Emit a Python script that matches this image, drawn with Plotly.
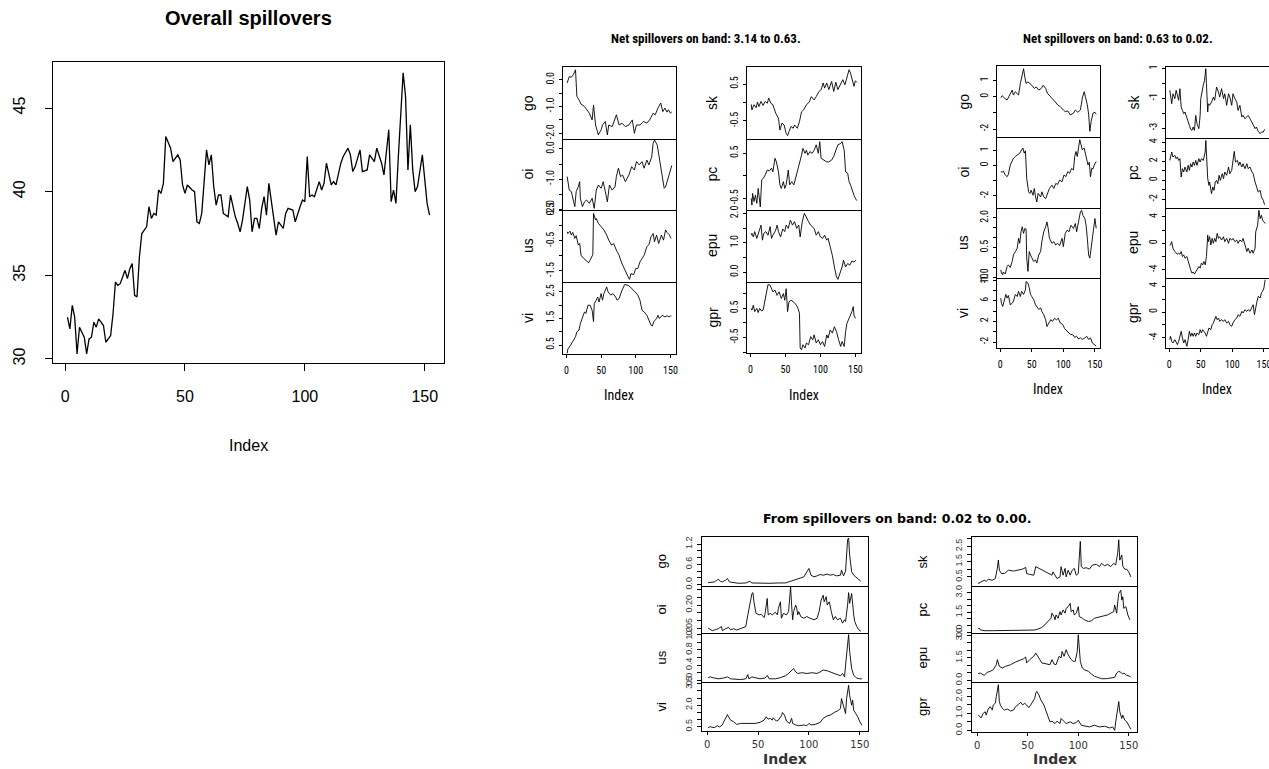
import plotly.graph_objects as go

W, H = 1269, 769

# ---------------- data (index, value) ----------------
overall = [(1,32.5),(2,31.8),(3,33.2),(4,32.5),(5,30.3),(6,31.9),(8,31.3),(9,30.3),(10,31.2),(11,31.3),(12,32.2),(13,31.9),(14,32.4),(16,32.0),(17,31.0),(19,31.4),(20,32.7),(21,34.6),(22,34.4),(23,34.5),(25,35.3),(26,34.8),(27,35.4),(28,35.7),(29,33.8),(30,33.7),(31,36.1),(32,37.5),(34,37.9),(35,39.1),(36,38.4),(37,38.7),(38,38.6),(39,40.1),(40,39.9),(41,40.5),(42,43.3),(43,43.0),(44,42.6),(45,41.8),(47,42.2),(48,41.9),(49,40.4),(50,39.9),(51,40.4),(53,40.1),(54,40.0),(55,38.2),(56,38.1),(57,38.7),(58,40.5),(59,42.5),(60,41.6),(61,42.2),(62,40.3),(63,39.2),(64,39.8),(65,39.8),(66,38.7),(68,38.5),(69,39.8),(70,39.1),(71,38.5),(72,38.1),(73,37.6),(74,38.3),(76,40.3),(77,39.5),(78,37.6),(79,38.4),(80,38.4),(81,37.8),(82,39.0),(83,39.7),(84,38.6),(85,40.5),(86,39.5),(87,38.5),(88,37.4),(89,38.2),(91,37.8),(92,38.7),(93,39.0),(95,38.9),(96,38.2),(98,39.1),(99,39.5),(100,39.4),(101,42.1),(102,39.7),(103,39.8),(104,39.7),(106,40.6),(107,40.1),(108,40.5),(109,41.7),(111,40.4),(112,40.6),(113,40.4),(115,41.7),(116,42.1),(118,42.6),(119,42.2),(120,41.2),(121,41.5),(123,42.5),(124,41.2),(126,41.3),(127,42.2),(129,41.8),(130,42.6),(132,41.7),(133,41.0),(135,43.7),(136,39.4),(137,40.1),(138,39.3),(139,42.1),(140,44.5),(141,47.1),(142,45.7),(143,41.3),(144,44.0),(145,41.3),(146,40.0),(147,40.3),(149,42.2),(150,40.5),(151,39.3),(152,38.6)]

# Net spillovers on band 3.14 to 0.63
n1_go = [(1,-0.12),(4,0.12),(7,0.09),(10,0.19),(13,0.37),(15,-0.62),(18,-0.75),(21,-0.91),(26,-1.0),(30,-1.12),(33,-1.25),(37,-1.5),(39,-0.94),(42,-1.69),(46,-2.06),(50,-1.87),(52,-1.69),(56,-1.56),(59,-2.06),(61,-1.69),(66,-1.75),(72,-1.31),(76,-1.69),(80,-1.62),(85,-1.75),(90,-1.69),(95,-1.5),(98,-2.0),(101,-1.69),(106,-1.69),(111,-1.56),(116,-1.62),(120,-1.5),(125,-1.25),(128,-1.31),(132,-1.06),(136,-0.87),(139,-1.19),(142,-1.06),(145,-1.21),(147,-1.12),(150,-1.25),(152,-1.2)]
n1_oi = [(1,-0.92),(2,-1.03),(4,-1.37),(7,-1.42),(9,-1.64),(12,-1.92),(14,-1.42),(17,-1.26),(19,-1.09),(20,-1.64),(23,-1.92),(26,-1.76),(29,-1.70),(33,-1.81),(37,-1.64),(40,-1.98),(43,-1.37),(46,-1.2),(50,-1.31),(53,-1.09),(56,-1.42),(59,-1.76),(62,-1.2),(66,-1.37),(70,-1.26),(72,-0.92),(75,-0.64),(78,-0.92),(81,-0.87),(85,-1.09),(90,-0.87),(94,-0.59),(98,-0.7),(101,-0.42),(105,-0.53),(109,-0.42),(112,-0.64),(116,-0.37),(119,-0.53),(123,-0.26),(125,0.19),(127,0.30),(131,0.13),(135,-0.42),(138,-0.98),(141,-1.31),(143,-1.26),(145,-1.09),(148,-0.87),(151,-0.59),(152,-0.55)]
n1_us = [(1,-0.2),(2,-0.26),(5,-0.18),(7,-0.31),(9,-0.22),(12,-0.42),(14,-0.33),(17,-0.64),(19,-0.59),(21,-0.98),(25,-1.09),(28,-1.14),(32,-1.23),(34,-1.14),(37,-0.98),(38,-0.96),(39,0.41),(42,0.19),(43,0.24),(46,0.08),(50,-0.03),(54,-0.14),(58,-0.31),(61,-0.48),(65,-0.64),(68,-0.59),(72,-0.81),(76,-0.98),(79,-1.2),(83,-1.42),(86,-1.59),(89,-1.70),(91,-1.78),(93,-1.59),(97,-1.62),(100,-1.42),(103,-1.42),(106,-1.2),(109,-1.09),(112,-0.98),(116,-0.70),(119,-0.62),(122,-0.37),(125,-0.26),(127,-0.53),(130,-0.31),(133,-0.59),(137,-0.31),(140,-0.48),(143,-0.14),(145,-0.22),(148,-0.29),(151,-0.42)]
n1_vi = [(1,0.19),(2,0.35),(6,0.5),(9,0.63),(13,0.81),(15,1.0),(18,1.06),(20,1.31),(23,1.5),(26,1.75),(28,1.69),(31,2.0),(34,2.0),(37,1.81),(39,1.38),(40,2.06),(43,2.19),(45,2.31),(47,2.12),(50,2.44),(52,2.19),(54,2.44),(58,2.69),(60,2.5),(64,2.38),(67,2.44),(71,2.31),(73,2.19),(76,2.25),(80,2.56),(84,2.78),(89,2.75),(92,2.69),(95,2.62),(99,2.5),(103,2.38),(106,2.19),(109,1.81),(112,1.75),(116,1.62),(119,1.44),(122,1.25),(124,1.22),(126,1.38),(130,1.5),(132,1.62),(134,1.5),(138,1.62),(142,1.56),(145,1.6),(149,1.56),(151,1.62)]
n1_sk = [(1,-0.05),(2,-0.2),(5,-0.06),(8,-0.14),(10,0.01),(12,-0.11),(15,0.03),(18,-0.08),(21,0.03),(24,-0.02),(26,0.12),(29,-0.02),(32,-0.06),(36,-0.29),(40,-0.43),(42,-0.75),(45,-0.56),(48,-0.61),(51,-0.84),(53,-0.9),(55,-0.79),(58,-0.65),(61,-0.7),(63,-0.61),(67,-0.7),(70,-0.52),(73,-0.25),(76,-0.2),(80,-0.06),(84,0.01),(87,0.16),(91,0.07),(94,0.16),(98,0.3),(101,0.35),(104,0.53),(106,0.39),(109,0.53),(112,0.35),(116,0.57),(119,0.3),(122,0.55),(125,0.35),(129,0.5),(132,0.62),(135,0.48),(137,0.62),(141,0.89),(143,0.8),(145,0.66),(148,0.44),(150,0.59),(152,0.55)]
n1_pc = [(1,-0.5),(2,-0.65),(3,-0.39),(5,-0.57),(7,-0.43),(9,-0.61),(11,-0.28),(12,-0.43),(14,-0.69),(16,-0.09),(18,-0.06),(21,0.02),(24,0.13),(27,0.11),(30,0.17),(32,0.09),(35,0.39),(37,0.31),(40,0.09),(42,-0.2),(44,-0.28),(47,-0.13),(49,-0.28),(51,-0.2),(54,0.13),(56,-0.2),(59,-0.13),(62,-0.2),(65,-0.02),(67,0.06),(70,0.24),(73,0.46),(75,0.61),(78,0.5),(80,0.57),(82,0.46),(85,0.54),(88,0.5),(91,0.57),(94,0.69),(97,0.5),(99,0.76),(101,0.39),(105,0.35),(109,0.31),(112,0.31),(116,0.35),(119,0.43),(122,0.57),(125,0.69),(129,0.72),(131,0.76),(134,0.57),(136,0.09),(139,0.06),(141,-0.13),(143,-0.2),(145,-0.31),(148,-0.43),(150,-0.5),(152,-0.55)]
n1_epu = [(1,1.26),(2,1.32),(4,1.2),(6,1.38),(9,1.15),(11,1.32),(13,1.43),(15,1.6),(17,1.09),(19,1.32),(22,1.38),(25,1.26),(28,1.55),(30,1.15),(32,1.26),(36,1.43),(38,1.6),(40,1.38),(43,1.2),(46,1.47),(49,1.38),(51,1.6),(54,1.49),(57,1.77),(60,1.6),(63,1.72),(66,1.49),(69,1.6),(71,1.2),(74,1.72),(77,2.0),(80,1.83),(83,1.72),(86,1.6),(89,1.55),(91,1.49),(94,1.26),(97,1.38),(100,1.2),(103,1.15),(106,1.26),(109,1.09),(111,1.15),(114,0.86),(117,0.58),(120,0.18),(123,-0.16),(125,-0.24),(128,-0.05),(131,0.18),(133,0.41),(136,0.18),(139,0.3),(142,0.24),(145,0.38),(148,0.35),(151,0.41)]
n1_gpr = [(1,0.5),(2,0.44),(4,0.61),(6,0.39),(9,0.5),(11,0.36),(13,0.5),(16,0.41),(18,0.44),(21,0.84),(23,1.18),(25,1.32),(28,1.3),(30,1.18),(32,1.07),(35,1.13),(38,0.95),(41,1.07),(44,0.84),(47,1.01),(49,0.78),(51,1.18),(53,0.39),(55,0.73),(58,0.78),(61,0.73),(65,0.64),(68,0.5),(70,0.33),(71,-0.86),(73,-0.92),(75,-0.75),(78,-0.86),(80,-0.69),(83,-0.75),(86,-0.47),(89,-0.58),(91,-0.41),(94,-0.69),(97,-0.58),(100,-0.75),(103,-0.64),(106,-0.81),(109,-0.41),(111,-0.52),(114,-0.24),(117,-0.35),(120,-0.13),(123,-0.3),(126,-0.58),(129,-0.81),(131,-0.64),(134,-0.81),(136,-0.3),(138,-0.01),(141,0.16),(143,0.27),(145,0.39),(147,0.56),(148,0.27),(150,0.16)]

# Net spillovers on band 0.63 to 0.02
n2_go = [(1,-0.06),(3,0.06),(5,0),(8,-0.14),(11,-0.2),(13,-0.06),(16,0.2),(19,0.41),(21,0.1),(24,0.31),(27,0.2),(29,0.1),(32,0.82),(34,1.12),(37,1.73),(39,1.22),(41,0.82),(44,0.92),(47,0.82),(50,0.71),(54,0.51),(57,0.61),(61,0.41),(65,0.51),(68,0.71),(72,0.51),(75,0.2),(80,0),(84,-0.2),(87,-0.31),(91,-0.51),(95,-0.61),(100,-0.82),(103,-0.92),(107,-0.88),(111,-1.12),(116,-1.02),(119,-0.82),(123,-0.96),(127,-0.82),(130,-0.1),(133,0.31),(135,0),(138,-0.51),(140,-1.08),(142,-2.14),(144,-1.53),(147,-1.02),(150,-0.96),(152,-1.08)]
n2_oi = [(1,-0.4),(3,-0.44),(5,-0.36),(8,-0.62),(11,-0.73),(13,-0.58),(16,0.04),(19,0.27),(21,0.49),(24,0.6),(28,0.71),(31,0.82),(34,1.04),(36,1.16),(38,0.82),(40,0.98),(42,-0.84),(45,-1.73),(47,-1.84),(49,-1.62),(52,-1.96),(54,-1.51),(56,-2.07),(58,-2.4),(60,-1.84),(64,-2.07),(66,-1.73),(69,-2.07),(72,-2.18),(75,-1.84),(78,-1.51),(82,-1.29),(85,-1.51),(88,-1.18),(91,-1.24),(94,-0.96),(98,-1.07),(101,-0.62),(104,-0.73),(107,-0.4),(110,-0.51),(113,-0.18),(116,-0.29),(118,0.6),(120,0.93),(122,0.6),(124,1.27),(126,1.71),(128,1.38),(130,1.04),(133,1.16),(135,0.71),(137,0.27),(139,0.04),(141,0.22),(143,-0.73),(145,-0.18),(147,-0.22),(149,0.04),(152,0.27)]
n2_us = [(1,-0.62),(2,-0.78),(4,-0.87),(5,-0.73),(8,-0.83),(11,-0.45),(13,-0.37),(16,-0.5),(19,-0.2),(21,0.13),(24,0.3),(27,0.47),(29,0.97),(31,0.72),(33,1.3),(35,1.55),(37,1.22),(39,1.47),(41,1.43),(42,-0.03),(44,-0.7),(46,0.3),(48,0.13),(50,-0.03),(53,-0.2),(56,-0.12),(58,-0.28),(61,0.13),(64,0.3),(66,0.8),(69,1.3),(72,1.55),(74,1.8),(76,1.47),(78,0.97),(82,0.72),(85,0.8),(88,0.63),(91,0.72),(94,0.6),(98,0.97),(100,0.55),(103,1.22),(106,1.38),(109,1.3),(112,1.63),(116,1.47),(119,1.72),(121,1.3),(124,1.8),(127,2.3),(129,2.38),(131,2.13),(134,1.97),(136,1.63),(138,0.97),(140,0.13),(142,-0.03),(144,0.47),(146,0.97),(148,1.63),(150,1.97),(152,1.47)]
n2_vi = [(1,6.5),(2,5.5),(4,4.9),(6,5.9),(9,7.2),(11,6.5),(13,7.0),(16,5.2),(19,5.5),(21,5.9),(24,7.2),(27,6.8),(29,7.8),(32,6.8),(34,7.8),(37,7.2),(40,8.1),(41,9.7),(44,9.4),(46,8.5),(48,7.2),(50,6.8),(53,6.2),(56,5.2),(58,4.9),(61,4.3),(64,4.6),(66,3.9),(69,3.3),(72,2.3),(74,1.0),(77,1.7),(80,2.3),(83,2.0),(86,2.6),(89,2.3),(92,2.6),(95,1.7),(99,1.4),(102,0.6),(105,0.2),(108,-0.1),(111,-0.5),(115,-0.6),(118,-1.1),(121,-0.9),(124,-1.4),(127,-1.2),(130,-1.5),(134,-1.2),(137,-0.9),(140,-1.5),(143,-1.2),(146,-2.2),(149,-2.5),(152,-2.8)]
n2_sk = [(1,-0.46),(2,-0.8),(4,-1.36),(6,-0.69),(9,-1.02),(11,-0.46),(13,-0.91),(15,-1.13),(17,-0.35),(19,-1.58),(21,-1.81),(23,-2.03),(25,-1.92),(28,-2.26),(30,-2.48),(32,-2.82),(34,-3.09),(36,-3.16),(38,-2.93),(40,-3.16),(42,-2.15),(44,-2.71),(47,-3.04),(49,-2.15),(50,-1.02),(52,-0.46),(54,-0.12),(56,0.21),(58,1.0),(59,-0.01),(61,-1.92),(62,-1.36),(64,-1.47),(67,-1.25),(70,-0.91),(72,-1.13),(75,-0.24),(78,-0.57),(80,-0.91),(83,-0.35),(86,-1.02),(88,-0.69),(91,-1.47),(94,-0.69),(96,-0.91),(99,-1.47),(101,-0.69),(104,-1.02),(107,-1.25),(109,-1.81),(112,-1.47),(115,-2.26),(117,-2.15),(120,-2.37),(123,-2.19),(125,-2.15),(128,-2.37),(131,-2.6),(133,-2.82),(136,-3.04),(138,-2.93),(141,-3.22),(144,-3.38),(146,-3.27),(149,-3.27),(151,-3.09)]
n2_pc = [(1,2.1),(2,2.46),(4,2.98),(6,2.46),(9,2.63),(11,2.28),(13,2.46),(15,2.1),(17,2.28),(19,0.35),(21,1.23),(23,0.88),(25,1.4),(28,0.88),(30,1.58),(32,1.05),(34,1.75),(36,1.4),(38,1.93),(40,1.58),(42,2.1),(44,1.58),(47,2.28),(49,1.93),(51,2.28),(54,2.1),(57,2.98),(58,4.2),(60,2.28),(61,0.18),(63,-0.53),(64,-0.18),(67,-1.4),(69,-0.7),(71,-1.05),(73,-0.18),(75,0),(77,-0.35),(79,0.53),(81,0),(84,0.7),(86,0.18),(88,0.88),(91,0.53),(94,1.4),(96,0.7),(99,1.05),(101,2.28),(103,3.05),(105,1.93),(108,2.1),(110,1.58),(112,1.93),(115,1.4),(117,1.75),(120,1.23),(123,1.75),(125,1.23),(128,1.4),(131,0.88),(133,0.7),(136,-0.18),(138,-0.53),(141,-1.23),(144,-1.05),(146,-1.75),(149,-2.1),(151,-2.56)]
n2_epu = [(1,-0.35),(2,-0.25),(4,0.25),(6,-0.75),(9,-1.25),(11,-1.5),(13,-1.65),(15,-1.5),(17,-1.65),(19,-1.25),(21,-2.0),(23,-1.75),(25,-2.25),(28,-2.0),(30,-2.75),(32,-3.5),(34,-4.0),(36,-4.5),(38,-4.35),(40,-4.65),(42,-4.25),(44,-4.0),(47,-3.5),(49,-3.75),(51,-3.0),(53,-3.25),(55,-2.75),(57,-3.25),(59,-2.0),(61,1.25),(62,0.25),(64,1.0),(66,-0.25),(68,0.75),(70,0),(72,0.75),(74,0.25),(76,1.5),(78,0.75),(80,1.0),(83,0.5),(86,1.0),(88,0.25),(91,0.75),(94,0),(96,0.75),(99,0.5),(101,0.75),(104,0.25),(107,0.5),(109,0),(112,0.5),(115,0.25),(117,0.75),(120,-0.25),(123,-1.25),(125,-0.75),(128,-1.5),(131,-1.0),(133,-1.5),(136,-0.75),(137,1.75),(140,2.75),(142,5.0),(144,3.75),(146,4.25),(148,3.5),(150,3.25),(152,3.0)]
n2_gpr = [(1,-4.28),(2,-3.76),(4,-4.54),(6,-4.79),(9,-4.28),(11,-4.79),(13,-5.05),(15,-4.54),(17,-3.5),(19,-2.99),(21,-4.02),(23,-4.79),(25,-4.28),(28,-5.31),(30,-4.28),(32,-2.99),(34,-3.76),(36,-3.25),(38,-3.76),(40,-3.25),(42,-3.76),(44,-3.25),(47,-3.5),(49,-2.73),(51,-3.25),(53,-2.73),(55,-2.99),(57,-3.25),(59,-3.76),(61,-2.99),(63,-2.47),(66,-2.73),(68,-1.96),(70,-1.7),(72,-1.19),(74,-0.67),(76,-1.19),(78,-0.93),(80,-1.44),(83,-1.19),(86,-1.44),(88,-1.19),(91,-1.7),(94,-1.44),(96,-1.96),(99,-2.22),(101,-1.7),(104,-1.19),(107,-0.93),(109,-0.41),(112,-0.67),(115,0.1),(117,-0.15),(120,0.36),(123,0.1),(125,0.36),(128,0.1),(131,0.62),(133,1.13),(135,-0.41),(137,0.88),(139,1.65),(141,2.42),(144,2.16),(146,2.94),(148,3.2),(150,3.71),(152,5.0)]

# From spillovers on band 0.02 to 0.00
f_go = [(1,0.06),(3,0.06),(7,0.08),(9,0.12),(11,0.16),(13,0.1),(15,0.08),(18,0.13),(20,0.18),(22,0.08),(26,0.06),(31,0.04),(38,0.05),(42,0.10),(44,0.05),(50,0.04),(61,0.04),(70,0.05),(77,0.05),(82,0.1),(85,0.14),(88,0.16),(92,0.2),(95,0.23),(98,0.38),(100,0.48),(102,0.28),(105,0.23),(108,0.26),(111,0.3),(114,0.28),(118,0.31),(121,0.28),(124,0.3),(127,0.26),(131,0.28),(132,0.43),(134,0.26),(136,0.4),(137,0.88),(138,1.33),(139,1.38),(140,0.88),(142,0.38),(144,0.28),(146,0.23),(149,0.16),(151,0.1)]
f_oi = [(1,0.05),(2,0.046),(5,0.033),(8,0.039),(11,0.046),(14,0.06),(15,0.033),(18,0.046),(21,0.054),(23,0.039),(26,0.046),(29,0.037),(33,0.046),(36,0.054),(38,0.06),(40,0.136),(42,0.2),(44,0.275),(45,0.281),(46,0.221),(48,0.146),(51,0.136),(53,0.14),(56,0.119),(57,0.146),(59,0.243),(60,0.136),(62,0.146),(64,0.136),(67,0.153),(69,0.136),(70,0.179),(72,0.221),(73,0.114),(75,0.146),(77,0.14),(78,0.136),(80,0.157),(82,0.318),(83,0.2),(84,0.104),(85,0.157),(87,0.2),(88,0.179),(89,0.136),(90,0.157),(92,0.125),(95,0.114),(98,0.125),(101,0.114),(105,0.104),(108,0.114),(110,0.157),(112,0.232),(114,0.264),(115,0.221),(117,0.254),(118,0.2),(120,0.221),(122,0.157),(124,0.104),(126,0.125),(128,0.104),(131,0.114),(133,0.082),(135,0.104),(136,0.093),(138,0.2),(139,0.281),(140,0.211),(142,0.275),(144,0.136),(145,0.093),(147,0.06),(149,0.039),(151,0.03)]
f_us = [(1,0.07),(3,0.09),(7,0.06),(11,0.04),(16,0.06),(20,0.09),(23,0.04),(28,0.03),(33,0.02),(38,0.04),(40,0.15),(41,0.04),(44,0.09),(47,0.07),(52,0.04),(57,0.06),(59,0.13),(61,0.04),(67,0.04),(72,0.07),(77,0.12),(80,0.18),(83,0.27),(85,0.31),(87,0.22),(89,0.18),(93,0.2),(98,0.18),(103,0.2),(108,0.18),(111,0.22),(114,0.27),(118,0.25),(121,0.22),(124,0.18),(128,0.13),(131,0.12),(133,0.18),(135,0.09),(136,0.4),(138,0.93),(139,1.2),(140,0.76),(142,0.31),(144,0.13),(147,0.06),(150,0.04),(152,0.04)]
f_vi = [(1,0.43),(3,0.5),(7,0.43),(10,0.57),(12,0.48),(15,0.62),(16,0.8),(18,1.08),(20,1.35),(21,1.19),(23,0.96),(26,0.85),(29,0.66),(33,0.73),(38,0.73),(43,0.68),(47,0.73),(52,0.8),(56,0.96),(58,1.19),(60,1.03),(62,1.08),(64,0.96),(65,1.12),(68,0.89),(70,0.96),(73,1.26),(74,1.49),(76,1.31),(78,0.89),(81,0.73),(83,1.08),(84,0.73),(87,0.62),(90,0.57),(95,0.62),(98,0.57),(100,0.73),(102,0.62),(106,0.66),(111,0.8),(114,1.08),(118,1.26),(121,1.31),(123,1.42),(126,1.54),(128,1.59),(131,1.77),(132,2.46),(134,2.0),(136,1.42),(137,2.46),(139,3.39),(140,2.69),(142,2.0),(143,2.35),(144,1.65),(146,1.42),(148,1.19),(150,0.85),(152,0.6)]
f_sk = [(1,0.06),(3,0.12),(7,0.28),(9,0.21),(11,0.34),(15,0.28),(18,0.39),(20,1.06),(21,1.61),(22,0.94),(24,0.72),(27,0.72),(31,0.94),(36,0.88),(41,0.94),(45,1.01),(48,1.12),(49,0.72),(52,0.66),(56,0.61),(58,1.17),(61,1.06),(64,0.94),(67,0.83),(71,0.72),(74,0.61),(75,0.83),(77,0.57),(79,0.39),(82,0.5),(83,1.17),(85,0.61),(87,1.06),(88,0.5),(90,0.94),(92,0.61),(94,0.94),(96,1.06),(98,0.61),(100,0.72),(101,1.94),(102,2.83),(103,1.17),(105,1.06),(108,1.1),(111,1.01),(114,1.28),(118,1.32),(121,1.17),(123,1.39),(126,1.23),(129,1.32),(132,1.17),(135,1.39),(137,1.28),(139,2.1),(140,2.94),(141,1.6),(143,1.94),(144,1.2),(146,1.0),(148,1.0),(150,0.8),(152,0.5)]
f_pc = [(1,0.22),(2,0.3),(3,0.17),(7,0.1),(15,0.1),(28,0.1),(41,0.12),(47,0.12),(54,0.1),(57,0.15),(61,0.25),(64,0.35),(67,0.55),(70,0.8),(73,1.05),(74,1.43),(76,1.18),(77,0.93),(78,1.3),(80,1.05),(82,1.55),(83,1.3),(85,1.68),(87,1.43),(88,1.8),(90,1.93),(92,2.18),(93,1.55),(95,1.68),(96,1.3),(98,1.43),(100,1.93),(101,1.18),(104,1.05),(106,0.93),(110,0.8),(113,0.85),(116,1.05),(119,1.1),(123,1.18),(126,1.25),(129,1.3),(132,1.43),(135,1.55),(136,2.05),(138,1.43),(139,2.3),(140,2.93),(142,3.18),(143,2.43),(144,2.68),(145,1.8),(147,1.93),(149,1.3),(151,0.93)]
f_epu = [(1,0.44),(3,0.49),(7,0.33),(10,0.53),(13,0.6),(16,0.71),(19,1.04),(20,1.38),(22,0.93),(25,0.82),(28,0.93),(33,1.04),(38,1.22),(43,1.38),(46,1.44),(48,1.56),(49,1.16),(52,1.38),(56,1.6),(58,1.82),(61,1.49),(64,1.16),(69,1.09),(72,1.04),(74,1.38),(76,1.09),(78,1.04),(81,1.6),(83,1.49),(84,1.93),(86,1.6),(88,2.04),(90,1.71),(93,1.38),(95,1.27),(97,1.27),(99,1.93),(100,3.04),(102,1.27),(104,0.82),(106,0.71),(110,0.6),(113,0.42),(116,0.27),(119,0.2),(123,0.11),(128,0.11),(132,0.16),(136,0.2),(138,0.49),(140,0.6),(142,0.53),(144,0.42),(145,0.49),(148,0.33),(151,0.27),(152,0.2)]
f_gpr = [(1,0.9),(2,0.86),(4,0.74),(6,1.0),(8,1.1),(9,0.9),(11,1.26),(13,1.4),(15,1.2),(16,1.5),(18,1.6),(19,2.0),(21,2.7),(22,1.7),(23,1.5),(25,1.3),(27,1.2),(30,1.26),(33,1.14),(36,1.2),(38,1.4),(41,1.54),(43,1.66),(45,1.5),(47,1.6),(49,1.5),(51,1.34),(53,1.5),(55,1.7),(57,1.9),(58,2.2),(59,2.3),(61,2.1),(63,1.8),(66,1.5),(68,1.2),(70,0.9),(72,0.5),(74,0.54),(77,0.4),(79,0.54),(82,0.4),(83,0.7),(86,0.5),(88,0.4),(92,0.5),(95,0.4),(98,0.46),(100,0.6),(103,0.3),(106,0.26),(111,0.2),(116,0.3),(121,0.2),(126,0.24),(131,0.14),(134,0.2),(136,0.0),(137,0.5),(139,1.3),(140,1.7),(141,1.1),(143,0.7),(144,0.9),(146,0.6),(148,0.5),(150,0.3),(152,0.06)]

X_TICKS = [0, 50, 100, 150]
X_RANGE = [-5.04, 158.04]

# ---------------- figure ----------------
SANS = "Liberation Sans, Arial, sans-serif"
NARROW = "Liberation Sans Narrow, Arial Narrow, Roboto Condensed, Liberation Sans, sans-serif"
WIDE = "DejaVu Sans, Verdana, sans-serif"

fig = go.Figure()
counter = [0]
annotations = []


def ann(text, x, y, size, family=SANS, bold=False, angle=0, color="black"):
    t = f"<b>{text}</b>" if bold else text
    annotations.append(dict(text=t, x=x / W, y=1 - y / H, xref="paper", yref="paper",
                            showarrow=False, xanchor="center", yanchor="middle",
                            textangle=angle, font=dict(size=size, family=family, color=color)))


def panel(data, xbox, ybox, yrange, ytv, ytt, bottom, yfont, xfont, lw=0.9,
          yticklen=3, ystand=1, xticklen=3, xstand=2, top=True):
    counter[0] += 1
    n = counter[0]
    s = "" if n == 1 else str(n)
    xs = [p[0] for p in data]
    ys = [p[1] for p in data]
    fig.add_trace(go.Scatter(x=xs, y=ys, mode="lines", line=dict(color="black", width=lw),
                             xaxis="x" + s, yaxis="y" + s, showlegend=False, hoverinfo="skip"))
    fig.update_layout(**{
        "xaxis" + s: dict(domain=[xbox[0] / W, min(xbox[1] / W, 1.0)], anchor="y" + s, range=X_RANGE,
                          showline=True, mirror=top, linecolor="black", linewidth=1,
                          showgrid=False, zeroline=False, automargin=False,
                          ticks="outside" if bottom else "", ticklen=xticklen, tickcolor="black",
                          tickvals=X_TICKS, showticklabels=bottom, tickfont=xfont,
                          ticklabelstandoff=xstand, ticklabeloverflow="allow"),
        "yaxis" + s: dict(domain=[1 - ybox[1] / H, 1 - ybox[0] / H], anchor="x" + s, range=yrange,
                          showline=True, mirror=True, linecolor="black", linewidth=1,
                          showgrid=False, zeroline=False, automargin=False,
                          ticks="outside", ticklen=yticklen, tickcolor="black",
                          tickvals=ytv, ticktext=ytt, tickangle=-90, tickfont=yfont,
                          ticklabelstandoff=ystand, ticklabeloverflow="allow"),
    })


# Overall spillovers
big = dict(size=16, family=SANS, color="black")
panel(overall, (53, 444), (62, 363), [29.76, 47.75], [30, 35, 40, 45], ["30", "35", "40", "45"],
      True, big, big, lw=1.3, yticklen=7, ystand=14, xticklen=7, xstand=12)
ann("Overall spillovers", 248, 18, 20, bold=True)
ann("Index", 248, 445, 16)

nfont = dict(size=10, family=NARROW, color="black")

# Net panel 1 (3.14 to 0.63)
rows1L = [(67, 139), (139, 210), (210, 282), (282, 354)]
rows1R = [(67, 139), (139, 210), (210, 282), (282, 353)]
left1 = [
    ("go", n1_go, [-2.2125, 0.475], [0, -0.5, -1, -1.5, -2], ["0.0", "", "-1.0", "", "-2.0"]),
    ("oi", n1_oi, [-2.033, 0.333], [0, -0.5, -1, -1.5, -2], ["0.0", "", "-1.0", "", "-2.0"]),
    ("us", n1_us, [-1.867, 0.522], [0.5, 0, -0.5, -1, -1.5], ["0.5", "", "-0.5", "", "-1.5"]),
    ("vi", n1_vi, [0.1625, 2.875], [0.5, 1, 1.5, 2, 2.5], ["0.5", "", "1.5", "", "2.5"]),
]
right1 = [
    ("sk", n1_sk, [-0.991, 0.964], [0.5, 0, -0.5], ["0.5", "", "-0.5"]),
    ("pc", n1_pc, [-0.759, 0.819], [0.5, 0, -0.5], ["0.5", "", "-0.5"]),
    ("epu", n1_epu, [-0.33, 2.114], [0, 0.5, 1, 1.5, 2], ["0.0", "", "1.0", "", "2.0"]),
    ("gpr", n1_gpr, [-1.034, 1.409], [1, 0.5, 0, -0.5, -1], ["", "0.5", "", "-0.5", ""]),
]
for i, (name, d, yr, tv, tt) in enumerate(left1):
    panel(d, (563, 676), rows1L[i], yr, tv, tt, i == 3, nfont, nfont, xstand=4, top=(i == 0))
    ann(name, 528, (rows1L[i][0] + rows1L[i][1]) / 2, 14, angle=-90)
for i, (name, d, yr, tv, tt) in enumerate(right1):
    panel(d, (747, 861), rows1R[i], yr, tv, tt, i == 3, nfont, nfont, xstand=4, top=(i == 0))
    ann(name, 712, (rows1R[i][0] + rows1R[i][1]) / 2, 14, angle=-90)
ann("Net spillovers on band: 3.14 to 0.63.", 706, 38, 13, family=NARROW, bold=True)
ann("Index", 619, 395, 14, family=NARROW)
ann("Index", 804, 395, 14, family=NARROW)

# Net panel 2 (0.63 to 0.02)
rows2L = [(66, 137), (137, 208), (208, 278), (278, 348)]
rows2R = [(67, 138), (138, 208), (208, 278), (278, 348)]
left2 = [
    ("go", n2_go, [-2.49, 1.898], [1, 0, -1, -2], ["1", "0", "", "-2"]),
    ("oi", n2_oi, [-2.8, 1.889], [1, 0, -1, -2], ["1", "0", "", "-2"]),
    ("us", n2_us, [-1.033, 2.5], [-1, -0.5, 0, 0.5, 1, 1.5, 2], ["-1.0", "", "", "0.5", "", "", "2.0"]),
    ("vi", n2_vi, [-3.16, 10.39], [-2, 0, 2, 4, 6, 8, 10], ["-2", "", "2", "", "6", "", "10"]),
]
right2 = [
    ("sk", n2_sk, [-3.67, 1.11], [1, 0, -1, -2, -3], ["1", "", "-1", "", "-3"]),
    ("pc", n2_pc, [-2.91, 4.456], [4, 3, 2, 1, 0, -1, -2], ["4", "", "2", "", "0", "", "-2"]),
    ("epu", n2_epu, [-5.25, 5.35], [4, 2, 0, -2, -4], ["4", "", "0", "", "-4"]),
    ("gpr", n2_gpr, [-5.567, 5.258], [4, 2, 0, -2, -4], ["4", "", "0", "", "-4"]),
]
for i, (name, d, yr, tv, tt) in enumerate(left2):
    panel(d, (997, 1100), rows2L[i], yr, tv, tt, i == 3, nfont, nfont, xstand=4, top=(i == 0))
    ann(name, 963, (rows2L[i][0] + rows2L[i][1]) / 2, 14, angle=-90)
for i, (name, d, yr, tv, tt) in enumerate(right2):
    panel(d, (1166, 1269), rows2R[i], yr, tv, tt, i == 3, nfont, nfont, xstand=4, top=(i == 0))
    ann(name, 1133, (rows2R[i][0] + rows2R[i][1]) / 2, 14, angle=-90)
ann("Net spillovers on band: 0.63 to 0.02.", 1118, 38, 13, family=NARROW, bold=True)
ann("Index", 1048, 389, 14, family=NARROW)
ann("Index", 1217, 389, 14, family=NARROW)

# From panel (0.02 to 0.00)
ffont = dict(size=9, family=SANS, color="#333333")
rows3L = [(537, 586), (586, 633), (633, 682), (682, 731)]
rows3R = [(537, 586), (586, 633), (633, 682), (682, 732)]
left3 = [
    ("go", f_go, [-0.04, 1.41], [0, 0.2, 0.4, 0.6, 0.8, 1.0, 1.2], ["0.0", "", "", "0.6", "", "", "1.2"]),
    ("oi", f_oi, [0.0179, 0.324], [0.05, 0.10, 0.15, 0.20, 0.25, 0.30], ["0.05", "", "", "0.20", "", ""]),
    ("us", f_us, [-0.044, 1.244], [0, 0.2, 0.4, 0.6, 0.8, 1.0, 1.2], ["0.0", "", "0.4", "", "0.8", "", "1.2"]),
    ("vi", f_vi, [0.2, 3.62], [0.5, 1.0, 1.5, 2.0, 2.5, 3.0, 3.5], ["0.5", "", "", "2.0", "", "", "3.5"]),
]
right3 = [
    ("sk", f_sk, [-0.1, 3.12], [0.5, 1.0, 1.5, 2.0, 2.5, 3.0], ["0.5", "", "1.5", "", "2.5", ""]),
    ("pc", f_pc, [-0.075, 3.5], [0, 0.5, 1.0, 1.5, 2.0, 2.5, 3.0], ["0.0", "", "", "1.5", "", "", "3.0"]),
    ("epu", f_epu, [-0.111, 3.156], [0, 0.5, 1.0, 1.5, 2.0, 2.5, 3.0], ["0.0", "", "", "1.5", "", "", "3.0"]),
    ("gpr", f_gpr, [-0.1, 2.86], [0, 0.5, 1.0, 1.5, 2.0, 2.5], ["0.0", "", "1.0", "", "2.0", ""]),
]
fxfont = dict(size=10, family=WIDE, color="#333333")
for i, (name, d, yr, tv, tt) in enumerate(left3):
    panel(d, (702, 868), rows3L[i], yr, tv, tt, i == 3, ffont, fxfont, yticklen=4, xstand=1, top=(i == 0))
    ann(name, 661, (rows3L[i][0] + rows3L[i][1]) / 2, 13, angle=-90)
for i, (name, d, yr, tv, tt) in enumerate(right3):
    panel(d, (972, 1137), rows3R[i], yr, tv, tt, i == 3, ffont, fxfont, yticklen=4, xstand=1, top=(i == 0))
    ann(name, 922, (rows3R[i][0] + rows3R[i][1]) / 2, 13, angle=-90)
ann("From spillovers on band: 0.02 to 0.00.", 897, 518, 12.5, family=WIDE, bold=True)
ann("Index", 785, 759, 14, family=WIDE, bold=True, color="#333333")
ann("Index", 1055, 759, 14, family=WIDE, bold=True, color="#333333")

fig.update_layout(width=W, height=H, autosize=False,
                  margin=dict(l=0, r=0, t=0, b=0, pad=0, autoexpand=False),
                  paper_bgcolor="white", plot_bgcolor="white", annotations=annotations,
                  showlegend=False)

fig.write_html("out.html",
               config={"displayModeBar": False, "responsive": False},
               post_script="document.body.style.margin='0';document.body.style.overflow='hidden';")
